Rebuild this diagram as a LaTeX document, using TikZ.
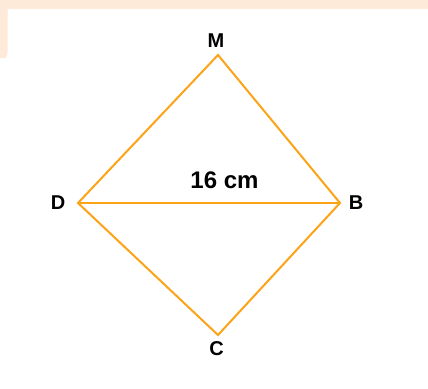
\documentclass[tikz,border=0pt]{standalone}
\usepackage{fontspec}
\setmainfont{Liberation Sans}
\definecolor{edgeor}{RGB}{252,163,23}
\definecolor{peach}{RGB}{253,234,217}
\begin{document}
\begin{tikzpicture}[x=1pt,y=-1pt,
  edge/.style={draw=edgeor,line width=2pt},
  vlabel/.style={font=\fontsize{20}{20}\selectfont\bfseries,inner sep=0pt,text=black},
  mlabel/.style={font=\fontsize{24}{24}\selectfont\bfseries,inner sep=0pt,text=black}]
\useasboundingbox (0,0) rectangle (428,388);
\fill[white] (0,0) rectangle (428,388);
\fill[peach] (0,0) rectangle (428,8.5);
\fill[peach] (0,0) -- (7.5,0) -- (7.5,52) -- (6,58) -- (0,58) -- cycle;
\coordinate (M) at (218,55);
\coordinate (D) at (78,203);
\coordinate (B) at (340,203);
\coordinate (C) at (218,335);
\draw[edge] (M) -- (B) -- (C) -- (D) -- cycle;
\draw[edge] (D) -- (B);
\node[vlabel] (lM) at (216,41) {M};
\node[vlabel] (lD) at (58,203) {D};
\node[vlabel] (lB) at (356,203) {B};
\node[vlabel] (lC) at (216.5,349) {C};
\node[mlabel] (len) at (224.5,180) {16 cm};
\end{tikzpicture}
\end{document}
